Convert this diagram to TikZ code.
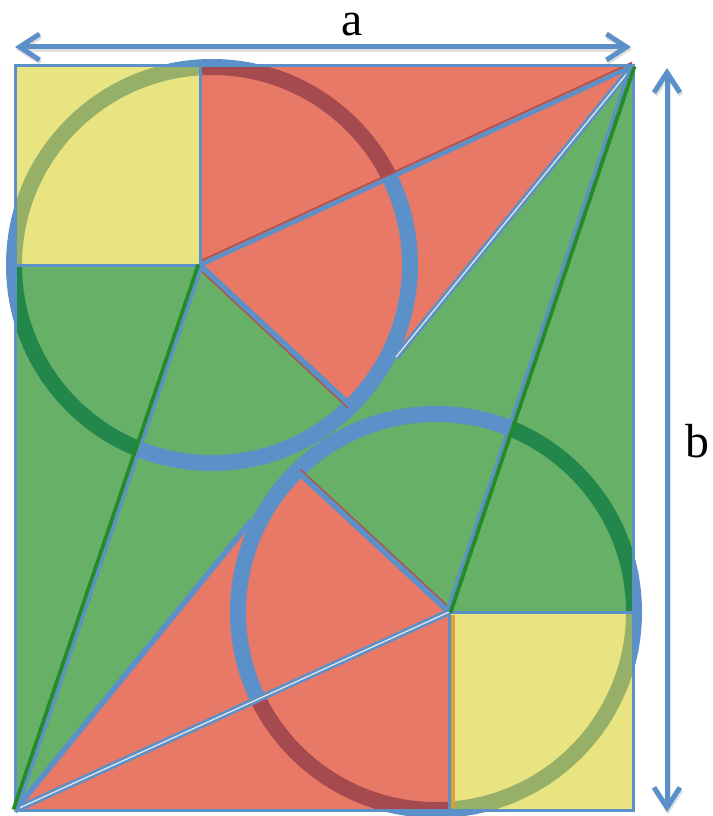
\documentclass[tikz,border=0pt]{standalone}
\usepackage{fontspec}
\setmainfont{Liberation Serif}
\usetikzlibrary{arrows.meta}
\definecolor{lblue}{HTML}{5B90C8}
\definecolor{fred}{HTML}{E87966}
\definecolor{fgreen}{HTML}{66B068}
\definecolor{fyellow}{HTML}{E8E482}
\definecolor{ringred}{HTML}{A54B50}
\definecolor{ringgreen}{HTML}{23874B}
\definecolor{ringyel}{HTML}{97B068}
\definecolor{lgreen}{HTML}{238C28}
\definecolor{edgered}{HTML}{B5504A}
\definecolor{lorange}{HTML}{E0A030}
\tikzset{
  ring/.style={draw=lblue, line width=16bp},
  edgeline/.style={draw=lblue, line width=3bp},
  radline/.style={draw=lblue, line width=5.5bp},
  dblline/.style={draw=lblue, line width=6.5bp},
  dblcore/.style={draw=white!80!gray, line width=1.3bp},
  greenline/.style={draw=lgreen, line width=3.8bp},
  shadeline/.style={draw=edgered, line width=1.8bp},
  dimarrow/.style={draw=lblue, line width=5bp,
    {Straight Barb[length=20bp,width=26bp]}-{Straight Barb[length=20bp,width=26bp]}},
  dimlabel/.style={font=\fontsize{48}{48}\selectfont, inner sep=0pt}
}
\begin{document}
\begin{tikzpicture}[x=1bp,y=-1bp]
\useasboundingbox (0,0) rectangle (713,816);
% key points
\coordinate (TL) at (15,66);
\coordinate (C) at (633,66);
\coordinate (D) at (15,810);
\coordinate (BR) at (633,810);
\coordinate (P) at (200,265);
\coordinate (Q) at (449,612);
\coordinate (R) at (350,405);
\coordinate (S) at (298,472);
\coordinate (X) at (396,357);
\coordinate (Y) at (252,520);
\coordinate (O1) at (212,265);
\coordinate (O2) at (436,612);
\coordinate (PT) at (200,66);
\coordinate (PL) at (15,265);
\coordinate (QB) at (449,810);
\coordinate (QR) at (633,612);
% base fills
\fill[fgreen] (TL) rectangle (BR);
\fill[fred] (P) -- (C) -- (X) -- (R) -- cycle;
\fill[fred] (Q) -- (D) -- (Y) -- (S) -- cycle;
% rings
\draw[ring] (O1) circle[radius=198bp];
\draw[ring] (O2) circle[radius=198bp];
% regions lying over the rings
\begin{scope}
  \clip (TL) rectangle (P);
  \fill[fyellow] (TL) rectangle (P);
  \draw[ring, draw=ringyel] (O1) circle[radius=198bp];
\end{scope}
\begin{scope}
  \clip (PT) -- (C) -- (P) -- cycle;
  \fill[fred] (PT) -- (C) -- (P) -- cycle;
  \draw[ring, draw=ringred] (O1) circle[radius=198bp];
\end{scope}
\begin{scope}
  \clip (PL) -- (P) -- (D) -- cycle;
  \fill[fgreen] (PL) -- (P) -- (D) -- cycle;
  \draw[ring, draw=ringgreen] (O1) circle[radius=198bp];
\end{scope}
\begin{scope}
  \clip (Q) rectangle (BR);
  \fill[fyellow] (Q) rectangle (BR);
  \draw[ring, draw=ringyel] (O2) circle[radius=198bp];
\end{scope}
\begin{scope}
  \clip (QB) -- (D) -- (Q) -- cycle;
  \fill[fred] (QB) -- (D) -- (Q) -- cycle;
  \draw[ring, draw=ringred] (O2) circle[radius=198bp];
\end{scope}
\begin{scope}
  \clip (QR) -- (Q) -- (C) -- cycle;
  \fill[fgreen] (QR) -- (Q) -- (C) -- cycle;
  \draw[ring, draw=ringgreen] (O2) circle[radius=198bp];
\end{scope}
% thin shading rims
\draw[shadeline] ([shift={(-2.2,2.6)}]P) -- ([shift={(-2.2,2.6)}]R);
\draw[shadeline] ([shift={(2.2,-2.6)}]Q) -- ([shift={(2.2,-2.6)}]S);
\draw[shadeline] ([shift={(-0.9,-3.4)}]P) -- ([shift={(-0.9,-3.4)}]C);
\draw[draw=lorange, line width=3.5bp] ([shift={(4,3)}]Q) -- ([shift={(4,-2)}]QB);
% outlines
\draw[edgeline] (TL) rectangle (BR);
\draw[edgeline] (PT) -- (P) -- (PL);
\draw[edgeline] (QB) -- (Q) -- (QR);
\draw[draw=lblue, line width=4.5bp] (P) -- (C);
\draw[radline] (P) -- (R);
\draw[radline] (Q) -- (S);
\draw[dblline] (C) -- (X);
\draw[dblcore] (C) -- (X);
\draw[radline] (D) -- (Y);
\draw[dblline] (D) -- (Q);
\draw[dblcore] (D) -- (Q);
\draw[draw=lblue, line width=3.2bp] ([shift={(-2,-0.7)}]C) -- ([shift={(-2,-0.7)}]Q);
\draw[greenline] ([shift={(1.5,0.5)}]C) -- ([shift={(1.5,0.5)}]Q);
\draw[greenline] ([shift={(-1.5,-0.5)}]D) -- ([shift={(-1.5,-0.5)}]P);
\draw[draw=lblue, line width=3.2bp] ([shift={(2,0.7)}]D) -- ([shift={(2,0.7)}]P);
% dimension arrows
\coordinate (A1) at (15,47);
\coordinate (A2) at (631,47);
\coordinate (B1) at (667,68);
\coordinate (B2) at (667,812);
\draw[dimarrow, draw=black, opacity=0.12] ([shift={(1,2.5)}]A1) -- ([shift={(1,2.5)}]A2);
\draw[dimarrow, draw=black, opacity=0.12] ([shift={(1,2.5)}]B1) -- ([shift={(1,2.5)}]B2);
\draw[dimarrow] (A1) -- (A2);
\draw[dimarrow] (B1) -- (B2);
\node[dimlabel, anchor=base] (la) at (352,36) {a};
\node[dimlabel, anchor=base] (lb) at (697,457) {b};
\end{tikzpicture}
\end{document}
